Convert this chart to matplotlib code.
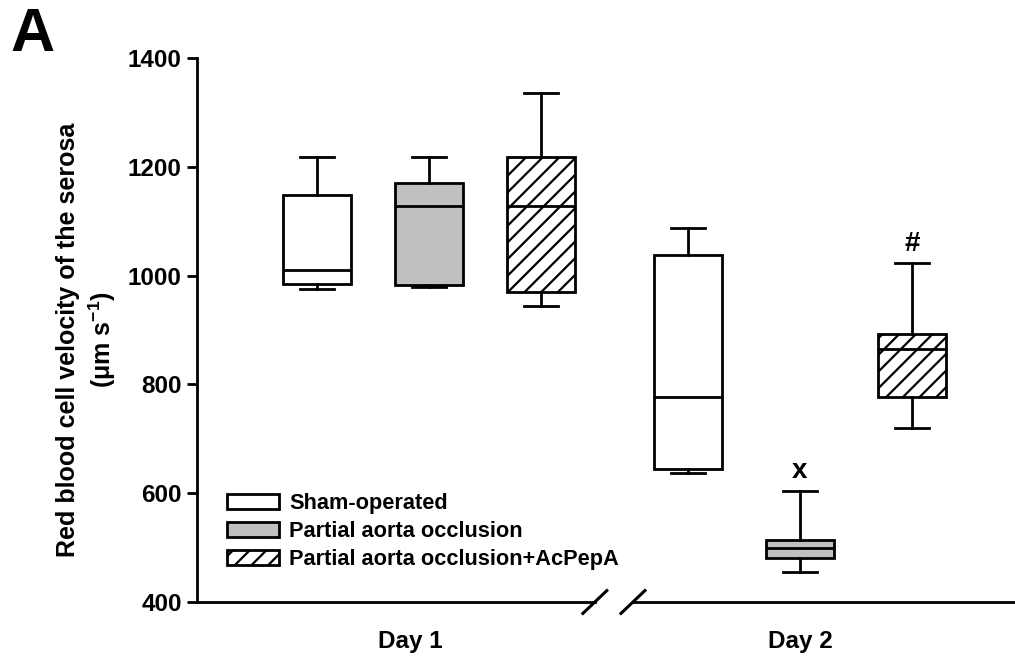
import numpy as np
import matplotlib
matplotlib.use("Agg")
import matplotlib.pyplot as plt
from matplotlib.patches import Patch

plt.rcParams['font.family'] = ['Liberation Sans', 'DejaVu Sans']
plt.rcParams['font.weight'] = 'bold'
plt.rcParams['mathtext.fontset'] = 'custom'
plt.rcParams['mathtext.rm'] = 'Liberation Sans:bold'
plt.rcParams['mathtext.bf'] = 'Liberation Sans:bold'
plt.rcParams['mathtext.default'] = 'bf'
plt.rcParams['hatch.linewidth'] = 1.6

# Data (um/s)
groups = ["Sham-operated", "Partial aorta occlusion", "Partial aorta occlusion+AcPepA"]
days = ["Day 1", "Day 2"]
whislo = [975, 979, 944, 637, 455, 720]
q1 = [985, 983, 970, 644, 481, 777]
med = [1010, 1128, 1128, 777, 499, 865]
q3 = [1148, 1170, 1218, 1038, 514, 893]
whishi = [1218, 1218, 1336, 1087, 604, 1023]
marks = ["", "", "", "", "x", "#"]

fills = ["white", "#c0c0c0", "white"]
hatches = ["", "", "//"]

positions = [1, 2, 3, 4.31, 5.31, 6.31]
day_ticks = [1.83, 5.31]

fig = plt.figure(figsize=(10.15, 6.59), dpi=100)
ax = fig.add_axes([0.1941, 0.0865, 0.8059, 0.8255])

stats = []
for i in range(6):
    stats.append(dict(whislo=whislo[i], q1=q1[i], med=med[i], q3=q3[i],
                      whishi=whishi[i], fliers=[]))

lw = 2.0
bp = ax.bxp(stats, positions=positions, widths=0.607, patch_artist=True,
            showfliers=False,
            boxprops=dict(linewidth=lw, edgecolor='black'),
            medianprops=dict(color='black', linewidth=lw),
            whiskerprops=dict(color='black', linewidth=lw),
            capprops=dict(color='black', linewidth=lw),
            capwidths=0.3)
for i, box in enumerate(bp['boxes']):
    box.set_facecolor(fills[i % 3])
    box.set_hatch(hatches[i % 3])

for i in range(6):
    if marks[i]:
        ax.text(positions[i], whishi[i] + 12, marks[i], ha='center', va='bottom',
                fontsize=20, fontweight='bold')

ax.set_ylim(400, 1400)
ax.set_xlim(-0.071, 7.23)
ax.set_yticks([400, 600, 800, 1000, 1200, 1400])
ax.tick_params(axis='y', direction='out', length=7, width=2, labelsize=17.5, pad=4)
ax.tick_params(axis='x', length=0, labelsize=17.5, pad=20)
ax.set_xticks(day_ticks)
ax.set_xticklabels(days)
for lab in ax.get_yticklabels() + ax.get_xticklabels():
    lab.set_fontweight('bold')

ax.spines['top'].set_visible(False)
ax.spines['right'].set_visible(False)
ax.spines['bottom'].set_visible(False)
ax.spines['left'].set_linewidth(2)

# broken x axis
tr = ax.get_xaxis_transform()
ax.plot([-0.071, 3.48], [0, 0], color='black', lw=2, transform=tr, clip_on=False)
ax.plot([3.82, 7.23], [0, 0], color='black', lw=2, transform=tr, clip_on=False)
for xc in [3.48, 3.82]:
    ax.plot([xc - 0.107, xc + 0.107], [-0.021, 0.021], color='black', lw=2.2,
            transform=tr, clip_on=False)

ax.set_ylabel("Red blood cell velocity of the serosa\n(μm s$^{-1}$)",
              fontsize=18, fontweight='bold', linespacing=1.25)
ax.yaxis.set_label_coords(-0.097, 0.482)

handles = [Patch(facecolor=fills[k], edgecolor='black', hatch=hatches[k], linewidth=2)
           for k in range(3)]
ax.legend(handles, groups, loc='upper left', bbox_to_anchor=(0.037, 0.2),
          frameon=False, handlelength=2.35, handleheight=0.72,
          labelspacing=0.32, borderpad=0, borderaxespad=0, handletextpad=0.5,
          prop=dict(weight='bold', size=15.7))

fig.text(0.01, 0.99, "A", fontsize=44, fontweight='bold', ha='left', va='top')

fig.savefig("out.png", dpi=100)
